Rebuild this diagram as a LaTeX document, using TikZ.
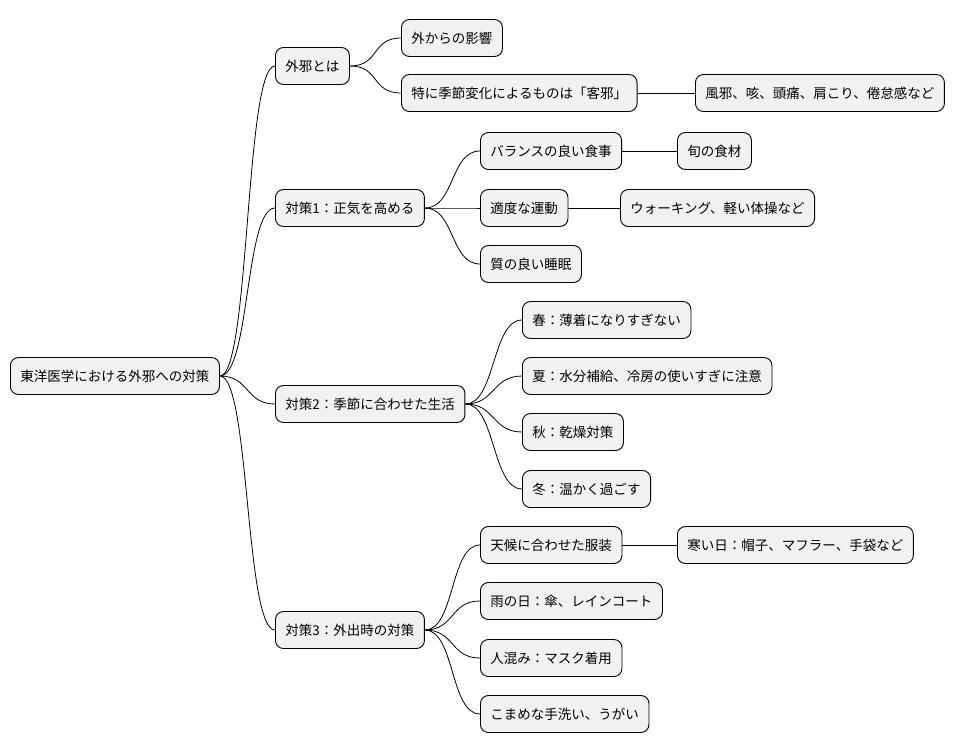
\documentclass[tikz,border=0pt]{standalone}
\usepackage{fontspec}
\setmainfont{Noto Sans CJK JP}
\begin{document}
\begin{tikzpicture}[x=1pt,y=-1pt,
  box/.style={draw=black,line width=0.9pt,fill={rgb,255:red,241;green,241;blue,241},rounded corners=8pt,
    minimum height=37pt,inner xsep=10pt,inner ysep=0pt,anchor=west,font=\fontsize{13.5pt}{16pt}\selectfont},
  c/.style={line width=0.8pt}]
\useasboundingbox (0,0) rectangle (964,752);
\node[box] (r) at (10,376) {東洋医学における外邪への対策};
\node[box] (a) at (275,66) {外邪とは};
\node[box] (b) at (275,208) {対策1：正気を高める};
\node[box] (c) at (275,404) {対策2：季節に合わせた生活};
\node[box] (d) at (275,630) {対策3：外出時の対策};
\node[box] (a1) at (401,38) {外からの影響};
\node[box] (a2) at (401,93) {特に季節変化によるものは「客邪」};
\node[box] (a21) at (695,93) {風邪、咳、頭痛、肩こり、倦怠感など};
\node[box] (b1) at (480,151) {バランスの良い食事};
\node[box] (b11) at (677,151) {旬の食材};
\node[box] (b2) at (480,208) {適度な運動};
\node[box] (b21) at (620,208) {ウォーキング、軽い体操など};
\node[box] (b3) at (480,264) {質の良い睡眠};
\node[box] (c1) at (522,320) {春：薄着になりすぎない};
\node[box] (c2) at (522,376) {夏：水分補給、冷房の使いすぎに注意};
\node[box] (c3) at (522,432) {秋：乾燥対策};
\node[box] (c4) at (522,489) {冬：温かく過ごす};
\node[box] (d1) at (480,545) {天候に合わせた服装};
\node[box] (d11) at (677,545) {寒い日：帽子、マフラー、手袋など};
\node[box] (d2) at (480,601) {雨の日：傘、レインコート};
\node[box] (d3) at (480,658) {人混み：マスク着用};
\node[box] (d4) at (480,714) {こまめな手洗い、うがい};
\foreach \p/\q in {r/a,r/b,r/c,r/d,a/a1,a/a2,b/b1,b/b2,b/b3,c/c1,c/c2,c/c3,c/c4,d/d1,d/d2,d/d3,d/d4}
  \draw[c] (\p.east) .. controls +(30,0) and +(-30,0) .. (\q.west);
\foreach \p/\q in {a2/a21,b1/b11,b2/b21,d1/d11}
  \draw[c] (\p.east) -- (\q.west);
\end{tikzpicture}
\end{document}
